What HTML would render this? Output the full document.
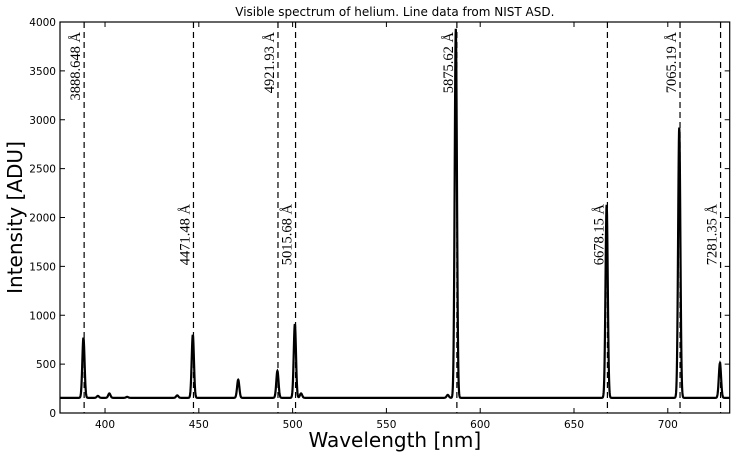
<!DOCTYPE html>
<html><head><meta charset="utf-8"><style>body{margin:0;background:#fff}svg{display:block}</style></head>
<body>
<svg id="chart" width="736" height="458" xmlns="http://www.w3.org/2000/svg"></svg>
<script>
const xTicks=[400,450,500,550,600,650,700];
const yTicks=[0,500,1000,1500,2000,2500,3000,3500,4000];
const peakCenters=[388.5,396.2,402.3,411.8,438.5,446.8,471.0,491.9,501.2,504.5,582.7,587.0,667.4,706.1,727.8];
const peakHeights=[615,20,45,10,25,645,185,275,755,45,30,3775,1975,2765,355];
const baseline=155;
const lineWaves=[388.8648,447.148,492.193,501.568,587.562,667.815,706.519,728.135];
const lineLabels=["3888.648 Å","4471.48 Å","4921.93 Å","5015.68 Å","5875.62 Å","6678.15 Å","7065.19 Å","7281.35 Å"];
const labelHigh=[true,false,true,false,true,false,true,false];
const X0=376,X1=733,Y0=0,Y1=4000,L=60,R=729.7,T=22,B=413;
const sx=v=>L+(v-X0)/(X1-X0)*(R-L);
const sy=v=>B-(v-Y0)/(Y1-Y0)*(B-T);
const svg=document.getElementById('chart');
const NS='http://www.w3.org/2000/svg';
function mk(tag,attrs,text){const e=document.createElementNS(NS,tag);for(const k in attrs)e.setAttribute(k,attrs[k]);if(text!==undefined)e.textContent=text;svg.appendChild(e);return e;}
let d='';
for(let w=X0;w<=X1;w+=0.1){let v=baseline;for(let i=0;i<peakCenters.length;i++){const s=0.6;v+=peakHeights[i]*Math.exp(-0.5*Math.pow((w-peakCenters[i])/s,2));}
d+=(d?'L':'M')+sx(w).toFixed(2)+','+sy(v).toFixed(2);}
const sp=mk('path',{d:d,fill:'none',stroke:'#000','stroke-width':2.2,'clip-path':'url(#c)'});


lineWaves.forEach((w,i)=>{
const ln=mk('line',{x1:sx(w),x2:sx(w),y1:T,y2:B,stroke:'#000','stroke-width':1.2,'stroke-dasharray':'6,4'});


const yt=labelHigh[i]?32:204;
const tx=mk('text',{x:0,y:0,transform:`translate(${sx(w)-4},${yt}) rotate(-90)`,'text-anchor':'end','font-family':'Liberation Serif, serif','font-size':14.5},lineLabels[i]);


});
const fr=mk('rect',{x:L,y:T,width:R-L,height:B-T,fill:'none',stroke:'#000','stroke-width':1.2});


xTicks.forEach(t=>{const x=sx(t);
mk('line',{x1:x,x2:x,y1:B,y2:B-5,stroke:'#000'});mk('line',{x1:x,x2:x,y1:T,y2:T+5,stroke:'#000'});
const tl=mk('text',{x:x,y:B+15,'text-anchor':'middle','font-family':'DejaVu Sans, sans-serif','font-size':10.5},t);

});
yTicks.forEach(t=>{const y=sy(t);
mk('line',{x1:L,x2:L+5,y1:y,y2:y,stroke:'#000'});mk('line',{x1:R,x2:R-5,y1:y,y2:y,stroke:'#000'});
const tl=mk('text',{x:L-4,y:y+4,'text-anchor':'end','font-family':'DejaVu Sans, sans-serif','font-size':10.5},t);

});
const ti=mk('text',{x:(L+R)/2,y:16,'text-anchor':'middle','font-family':'DejaVu Sans, sans-serif','font-size':12},'Visible spectrum of helium. Line data from NIST ASD.');


const xl=mk('text',{x:(L+R)/2,y:447,'text-anchor':'middle','font-family':'DejaVu Sans, sans-serif','font-size':20},'Wavelength [nm]');


const yl=mk('text',{x:0,y:0,transform:`translate(22,${(T+B)/2}) rotate(-90)`,'text-anchor':'middle','font-family':'DejaVu Sans, sans-serif','font-size':20},'Intensity [ADU]');


const defs=document.createElementNS(NS,'defs');defs.innerHTML=`<clipPath id="c"><rect x="${L}" y="${T}" width="${R-L}" height="${B-T}"/></clipPath>`;svg.prepend(defs);
</script>
</body></html>
